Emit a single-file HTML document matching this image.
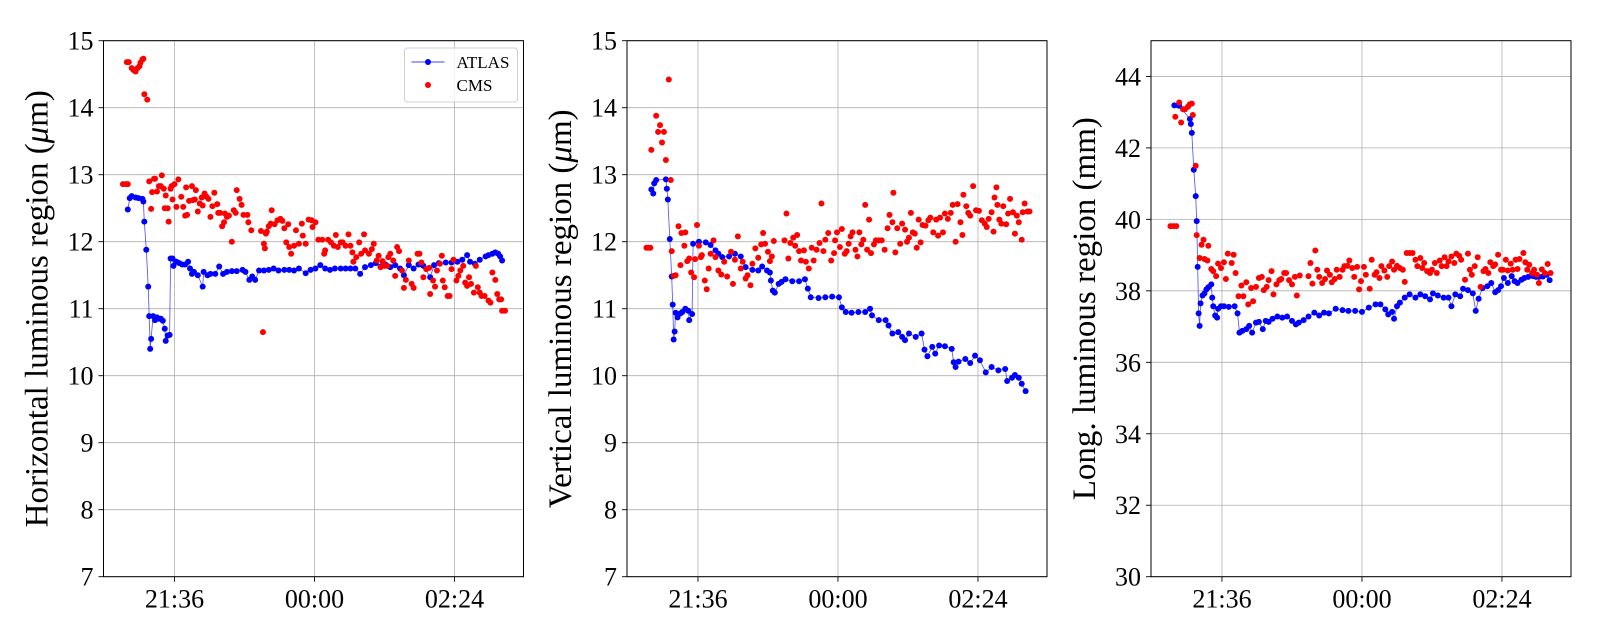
<!DOCTYPE html>
<html><head><meta charset="utf-8">
<style>
html,body{margin:0;padding:0;background:#fff;}
svg{display:block;font-family:"Liberation Serif","DejaVu Serif",serif;}
</style></head>
<body>
<svg id="chart" width="1600" height="640" viewBox="0 0 1600 640" xmlns="http://www.w3.org/2000/svg"></svg>
<script>
// time in minutes relative to 00:00
const xTickVals = [-144, 0, 144];
const xTickLabels = ["21:36", "00:00", "02:24"];
const yTicksP1 = [7,8,9,10,11,12,13,14,15];
const yTicksP2 = [7,8,9,10,11,12,13,14,15];
const yTicksP3 = [30,32,34,36,38,40,42,44];

const p1AtlasT = [-192,-190,-188,-184,-181,-177,-176,-175,-173,-171,-170,-169,-168,-166,-164,-162,-160,-158,-156,-154,-153,-151,-149,-148,-146,-145,-142,-139,-136,-133,-130,-128,-126,-124,-120,-115,-114,-110,-107,-102,-98,-94,-90,-85,-80,-74,-71,-67,-64,-61,-57,-52,-47,-42,-37,-31,-26,-21,-16,-9,-4,1,6,11,16,21,27,32,37,42,47,52,58,63,68,73,78,83,88,92,97,102,107,112,119,123,128,135,141,147,152,157,160,165,170,176,179,183,186,189,191,193];
const p1AtlasV = [12.48,12.65,12.68,12.66,12.65,12.64,12.6,12.3,11.88,11.33,10.89,10.4,10.55,10.89,10.83,10.87,10.85,10.85,10.82,10.7,10.52,10.6,10.61,11.75,11.75,11.64,11.7,11.68,11.66,11.66,11.7,11.6,11.52,11.55,11.5,11.33,11.55,11.5,11.52,11.52,11.63,11.52,11.55,11.56,11.56,11.58,11.55,11.43,11.48,11.43,11.57,11.57,11.58,11.6,11.57,11.58,11.58,11.57,11.6,11.53,11.58,11.6,11.65,11.6,11.58,11.6,11.6,11.6,11.6,11.6,11.52,11.62,11.65,11.68,11.63,11.66,11.62,11.65,11.6,11.5,11.65,11.6,11.66,11.64,11.47,11.65,11.68,11.69,11.69,11.7,11.73,11.8,11.7,11.67,11.73,11.78,11.8,11.82,11.84,11.82,11.78,11.72];
const p1CmsT = [-197,-194,-193,-192,-191,-188,-186,-184,-182,-180,-179,-177,-176,-175,-172,-170,-168,-167,-165,-164,-162,-160,-158,-157,-155,-154,-153,-151,-150,-148,-147,-146,-144,-142,-140,-137,-135,-133,-132,-131,-129,-126,-125,-123,-122,-120,-118,-116,-115,-113,-111,-109,-107,-105,-103,-100,-99,-97,-95,-93,-92,-90,-88,-85,-83,-81,-80,-77,-75,-73,-69,-68,-65,-55,-53,-52,-51,-50,-49,-47,-45,-44,-41,-38,-35,-33,-31,-29,-27,-26,-24,-21,-19,-16,-13,-12,-9,-6,-3,-2,1,4,8,10,11,14,17,20,22,24,27,29,32,35,37,39,40,43,46,48,51,52,56,59,61,64,66,68,70,72,75,76,78,81,83,85,87,90,92,94,97,100,102,106,108,110,112,115,118,119,122,124,126,129,131,132,134,137,139,141,143,146,148,150,153,155,157,159,161,164,166,168,170,172,175,179,181,183,186,188,190,192,193,196];
const p1CmsV = [12.86,12.86,14.68,12.86,14.68,14.59,14.56,14.54,14.59,14.62,14.67,14.72,14.73,14.2,14.12,12.9,12.49,12.74,12.94,12.94,12.75,12.83,12.83,12.99,12.79,12.5,12.69,12.5,12.3,12.79,12.83,12.63,12.86,12.52,12.93,12.67,12.52,12.39,12.81,12.4,12.61,12.83,12.62,12.63,12.77,12.45,12.57,12.66,12.54,12.72,12.67,12.64,12.37,12.53,12.73,12.56,12.43,12.43,12.23,12.29,12.42,12.37,12.39,12.0,12.47,12.43,12.77,12.64,12.55,12.4,12.4,12.29,12.17,12.16,10.65,11.97,11.9,12.12,12.15,12.23,12.27,12.47,12.26,12.32,12.34,12.31,12.2,11.99,12.26,11.92,11.82,11.94,12.17,11.97,12.27,12.09,11.97,12.33,12.32,12.22,12.29,12.03,12.03,11.82,11.87,12.03,11.99,11.94,12.1,11.92,11.99,11.99,11.94,12.11,11.94,11.84,11.7,11.77,11.99,11.82,12.11,11.87,11.82,11.89,11.97,11.72,11.79,11.62,11.71,11.64,11.64,11.77,11.82,11.72,11.49,11.92,11.86,11.57,11.31,11.43,11.72,11.37,11.31,11.82,11.82,11.69,11.47,11.59,11.61,11.22,11.42,11.33,11.57,11.67,11.79,11.42,11.32,11.19,11.19,11.59,11.73,11.42,11.49,11.57,11.64,11.39,11.34,11.47,11.37,11.24,11.64,11.32,11.24,11.19,11.19,11.12,11.09,11.54,11.43,11.22,11.14,11.14,10.97,10.97];

const p2AtlasT = [-192,-190,-189,-187,-177,-176,-175,-173,-171,-170,-169,-168,-167,-165,-162,-160,-157,-154,-153,-150,-149,-143,-136,-131,-126,-123,-119,-112,-106,-100,-95,-88,-82,-78,-73,-70,-69,-67,-65,-61,-58,-54,-47,-40,-34,-31,-28,-20,-13,-6,1,4,8,14,21,28,33,35,42,49,52,56,62,66,69,73,80,86,89,92,97,100,104,110,117,119,121,124,131,136,141,146,152,158,165,172,174,179,182,186,189,193];
const p2AtlasV = [12.78,12.72,12.87,12.92,12.93,12.79,12.63,12.04,11.48,11.06,10.54,10.66,10.94,10.87,10.93,10.95,11.0,10.97,10.83,10.92,11.97,12.0,11.99,11.95,11.87,11.82,11.77,11.78,11.82,11.78,11.62,11.58,11.57,11.63,11.57,11.54,11.42,11.27,11.24,11.37,11.4,11.44,11.41,11.41,11.44,11.3,11.17,11.16,11.17,11.18,11.17,11.02,10.95,10.94,10.95,10.95,11.0,10.9,10.83,10.83,10.75,10.63,10.65,10.58,10.53,10.63,10.58,10.63,10.39,10.29,10.43,10.33,10.45,10.44,10.4,10.2,10.13,10.21,10.25,10.19,10.3,10.23,10.05,10.13,10.08,10.1,9.92,9.97,10.01,9.97,9.88,9.77];
const p2CmsT = [-197,-195,-193,-192,-187,-185,-183,-181,-179,-177,-174,-172,-171,-169,-167,-164,-162,-161,-158,-157,-155,-153,-151,-148,-147,-145,-143,-141,-140,-137,-135,-133,-131,-128,-126,-123,-120,-117,-114,-110,-108,-106,-103,-100,-98,-95,-93,-90,-88,-85,-82,-79,-77,-75,-72,-70,-68,-66,-55,-53,-51,-49,-46,-44,-42,-40,-38,-35,-33,-30,-27,-25,-22,-19,-17,-15,-13,-10,-7,-4,-3,-1,2,4,7,9,11,13,15,18,20,22,24,26,28,30,32,34,37,39,42,45,48,51,53,56,57,59,61,64,66,69,71,73,75,77,79,81,83,85,87,90,93,95,98,101,103,105,108,110,113,116,118,121,123,126,128,129,132,134,136,139,142,145,148,151,153,155,158,160,161,163,164,166,168,170,173,175,177,180,182,184,186,189,190,192,195,197];
const p2CmsV = [11.91,11.91,11.91,13.37,13.88,13.64,13.74,13.48,13.64,13.22,14.42,12.92,11.86,11.49,11.5,12.23,11.65,12.13,11.94,12.14,11.71,11.75,11.54,11.47,11.74,12.25,11.94,11.77,11.8,11.42,11.29,11.6,11.82,12.02,11.77,11.57,11.51,11.7,11.48,11.85,11.37,11.73,12.08,11.6,11.7,11.45,11.5,11.35,11.67,11.9,11.76,11.96,12.13,11.97,11.85,11.71,11.78,12.01,12.02,12.42,11.75,11.98,12.06,11.94,12.1,11.86,11.72,11.87,11.7,11.6,11.91,11.72,11.88,11.98,12.57,11.86,12.03,12.13,11.72,11.83,12.02,12.14,11.92,12.19,11.82,11.86,11.97,12.08,12.14,11.88,11.78,12.14,11.96,12.03,12.55,11.88,12.33,11.83,11.96,12.02,12.02,12.02,11.88,12.2,12.4,12.29,12.73,11.84,12.2,11.97,12.27,12.18,12.0,12.06,12.43,12.14,12.12,11.91,12.33,11.99,12.25,12.24,12.32,12.36,12.14,12.33,12.09,12.36,12.14,12.42,12.34,12.43,12.55,12.0,12.56,12.29,12.1,12.7,12.53,12.43,12.39,12.83,12.47,12.46,12.32,12.27,12.22,12.34,12.44,12.15,12.66,12.81,12.55,12.33,12.27,12.53,12.26,12.42,12.64,12.44,12.12,12.39,12.29,12.03,12.44,12.57,12.45,12.45];

const p3AtlasT = [-193,-189,-188,-177,-176,-175,-173,-171,-170,-169,-168,-167,-166,-164,-162,-160,-158,-155,-154,-153,-151,-149,-148,-145,-142,-137,-131,-128,-126,-123,-119,-116,-113,-109,-106,-102,-99,-96,-92,-87,-82,-77,-72,-68,-65,-60,-55,-49,-44,-39,-34,-27,-20,-14,-7,0,7,14,19,24,27,31,33,36,39,44,49,55,60,65,70,73,78,84,89,92,96,101,104,109,114,117,120,124,129,133,137,140,143,146,150,154,157,160,164,167,171,176,179,182,186,190,193];
const p3AtlasV = [43.19,43.19,43.18,42.81,42.67,42.42,41.39,40.65,39.95,38.67,37.37,37.02,37.65,37.87,37.93,38.04,38.1,38.18,37.81,37.57,37.31,37.25,37.5,37.57,37.57,37.55,37.57,37.37,36.83,36.88,36.93,37.02,36.83,37.11,37.13,36.93,37.16,37.13,37.22,37.28,37.25,37.28,37.16,37.06,37.11,37.18,37.28,37.39,37.31,37.39,37.37,37.5,37.46,37.44,37.44,37.41,37.53,37.62,37.62,37.48,37.34,37.41,37.22,37.57,37.67,37.81,37.9,37.81,37.9,37.85,37.76,37.93,37.87,37.81,37.81,37.57,37.9,37.85,38.06,38.02,37.93,37.44,37.78,38.08,38.13,38.22,37.96,38.02,38.13,38.36,38.22,38.41,38.27,38.22,38.31,38.36,38.39,38.41,38.39,38.39,38.4,38.45,38.3];
const p3CmsT = [-197,-194,-192,-191,-188,-186,-184,-182,-179,-177,-175,-174,-171,-170,-167,-165,-163,-162,-159,-158,-155,-153,-150,-148,-145,-142,-140,-138,-134,-132,-130,-127,-124,-122,-119,-117,-114,-112,-109,-106,-103,-101,-98,-96,-93,-91,-88,-85,-83,-80,-78,-75,-72,-69,-67,-64,-55,-53,-51,-48,-46,-44,-41,-38,-36,-33,-31,-28,-26,-23,-20,-18,-15,-13,-10,-8,-5,-3,-1,2,4,8,10,13,15,18,20,23,26,28,31,33,36,39,42,44,46,49,52,55,57,60,62,64,67,70,72,75,77,80,82,85,87,89,92,95,97,100,102,106,109,111,113,116,119,122,125,127,130,132,135,137,140,143,145,148,150,153,155,158,160,162,166,168,170,172,175,177,180,182,185,188,191,194];
const p3CmsV = [39.81,39.81,42.87,39.81,43.27,42.71,43.08,43.08,43.15,43.22,43.24,42.92,41.5,39.56,38.92,39.29,39.43,38.89,38.85,39.26,38.61,38.55,38.41,38.76,38.64,38.8,38.33,39.04,38.78,39.01,38.5,37.85,38.15,37.85,38.24,37.62,38.08,37.71,38.11,38.36,38.39,38.02,38.11,38.3,38.55,37.9,38.18,38.3,38.33,38.5,38.5,38.3,38.18,38.39,37.87,38.43,38.41,38.78,38.2,39.13,38.59,38.39,38.22,38.33,38.57,38.45,38.24,38.33,38.59,38.39,38.59,38.69,38.7,38.85,38.64,38.39,38.67,38.04,38.27,38.67,38.45,38.06,38.87,38.45,38.52,38.36,38.69,38.57,38.39,38.69,38.82,38.59,38.7,38.64,38.59,38.25,39.06,39.06,39.06,38.87,38.69,38.92,38.64,38.78,38.55,38.5,38.59,38.78,38.5,38.85,38.69,38.94,38.69,38.82,38.96,38.78,39.04,38.98,38.87,38.31,39.04,38.59,38.45,38.69,38.94,38.11,38.55,38.61,38.5,38.8,38.69,38.74,39.01,38.59,38.59,38.87,38.57,38.76,38.59,38.87,38.61,38.89,39.06,38.8,38.59,38.73,38.5,38.59,38.45,38.22,38.6,38.5,38.75,38.5];

const NS = "http://www.w3.org/2000/svg";
const svg = document.getElementById('chart');
const XMIN = -217, XMAX = 215, TOP = 40.7, BOTTOM = 576.7, W = 420;

function mk(tag, attrs, parent) {
  const e = document.createElementNS(NS, tag);
  for (const k in attrs) e.setAttribute(k, attrs[k]);
  (parent || svg).appendChild(e);
  return e;
}

function panel(id, left, ymin, ymax, yTicks, titleHtml, atlasT, atlasV, cmsT, cmsV, legend) {
  const g = mk('g', {});
  
  
  const xs = t => left + (t - XMIN) / (XMAX - XMIN) * W;
  const ys = v => BOTTOM - (v - ymin) / (ymax - ymin) * (BOTTOM - TOP);
  xTickVals.forEach((t, i) => {
    const l = mk('line', {x1: xs(t), x2: xs(t), y1: TOP, y2: BOTTOM, stroke: '#b0b0b0', 'stroke-width': 0.8}, g);
    
    
    const tk = mk('line', {x1: xs(t), x2: xs(t), y1: BOTTOM, y2: BOTTOM + 5, stroke: '#000', 'stroke-width': 0.9}, g);
    
    
    const tx = mk('text', {x: xs(t), y: BOTTOM + 31, 'text-anchor': 'middle', 'font-size': 26}, g);
    tx.textContent = xTickLabels[i];
    
    
  });
  yTicks.forEach(v => {
    const l = mk('line', {x1: left, x2: left + W, y1: ys(v), y2: ys(v), stroke: '#b0b0b0', 'stroke-width': 0.8}, g);
    
    
    const tk = mk('line', {x1: left - 5, x2: left, y1: ys(v), y2: ys(v), stroke: '#000', 'stroke-width': 0.9}, g);
    
    
    const tx = mk('text', {x: left - 10, y: ys(v) + 9, 'text-anchor': 'end', 'font-size': 26}, g);
    tx.textContent = String(v);
    
    
  });
  const cy = (TOP + BOTTOM) / 2;
  const tt = mk('text', {x: 0, y: 0, 'text-anchor': 'middle', 'font-size': 33, transform: `translate(${left - 56},${cy}) rotate(-90)`}, g);
  tt.innerHTML = titleHtml;
  
  
  let d = '';
  atlasT.forEach((t, i) => { d += (i ? 'L' : 'M') + xs(t).toFixed(1) + ',' + ys(atlasV[i]).toFixed(1); });
  const pl = mk('path', {d: d, fill: 'none', stroke: '#0000ff', 'stroke-width': 0.8, 'stroke-opacity': 0.7}, g);
  
  
  atlasT.forEach((t, i) => {
    const c = mk('circle', {cx: xs(t), cy: ys(atlasV[i]), r: 3, fill: '#0000ff'}, g);
    
    
  });
  cmsT.forEach((t, i) => {
    const c = mk('circle', {cx: xs(t), cy: ys(cmsV[i]), r: 3, fill: '#ff0000'}, g);
    
    
  });
  const fr = mk('rect', {x: left, y: TOP, width: W, height: BOTTOM - TOP, fill: 'none', stroke: '#000', 'stroke-width': 1}, g);
  
  
  if (legend) {
    const lg = mk('g', {}, g);
    
    
    const bx = mk('rect', {x: left + W - 119, y: 48, width: 113, height: 54, rx: 3, fill: '#fff', 'fill-opacity': 0.8, stroke: '#d0d0d0', 'stroke-width': 1}, lg);
    
    
    const e1 = mk('g', {}, lg);
    
    
    mk('line', {x1: left + W - 112, x2: left + W - 79, y1: 62, y2: 62, stroke: '#0000ff', 'stroke-width': 0.8}, e1);
    mk('circle', {cx: left + W - 95.5, cy: 62, r: 3, fill: '#0000ff'}, e1);
    const t1 = mk('text', {x: left + W - 67, y: 68, 'font-size': 17}, e1);
    t1.textContent = 'ATLAS';
    const e2 = mk('g', {}, lg);
    
    
    mk('circle', {cx: left + W - 95.5, cy: 85, r: 3, fill: '#ff0000'}, e2);
    const t2 = mk('text', {x: left + W - 67, y: 91, 'font-size': 17}, e2);
    t2.textContent = 'CMS';
  }
}

panel('panel-horizontal', 103.5, 7, 15, yTicksP1, 'Horizontal luminous region (<tspan font-style="italic">μ</tspan>m)', p1AtlasT, p1AtlasV, p1CmsT, p1CmsV, true);
panel('panel-vertical', 627, 7, 15, yTicksP2, 'Vertical luminous region (<tspan font-style="italic">μ</tspan>m)', p2AtlasT, p2AtlasV, p2CmsT, p2CmsV, false);
panel('panel-longitudinal', 1151, 30, 45, yTicksP3, 'Long. luminous region (mm)', p3AtlasT, p3AtlasV, p3CmsT, p3CmsV, false);
</script>
</body></html>
